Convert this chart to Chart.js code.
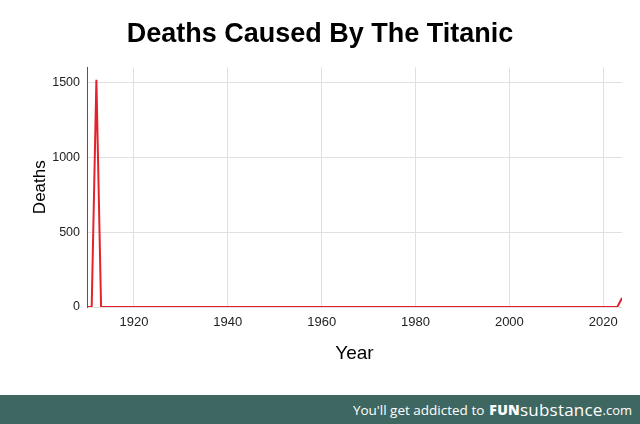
<!DOCTYPE html>
<html>
<head>
<meta charset="utf-8">
<script src="https://cdn.jsdelivr.net/npm/chart.js@4"></script>
<style>
    html, body { margin: 0; padding: 0; background: #fff; }
    #wrap { width: 640px; height: 395px; position: relative; }
    #footer {
        width: 640px; height: 29px; background: #3f6761; color: #fff;
        font-family: 'Open Sans', sans-serif; font-size: 13.5px;
        display: flex; align-items: center; justify-content: flex-end;
        box-sizing: border-box; padding-right: 8px;
    }
    #footer b { font-weight: 800; letter-spacing: 0.3px; margin-left: 5px; font-size: 14px; }
    #footer .sub { font-size: 17px; letter-spacing: 0.2px; }
    #footer small { font-size: 13px; }
</style>
</head>
<body>
<div id="wrap"><canvas id="chart" width="640" height="395"></canvas></div>
<div id="footer">You'll get addicted to <b>FUN</b><span class="sub">substance</span><small>.com</small></div>
<script>
'use strict';

// ===== データ =====
const years  = [1910, 1911, 1912, 1913, 2023, 2024];
const deaths = [0, 0, 1517, 0, 0, 60];

const xTicks = [1920, 1940, 1960, 1980, 2000, 2020];
const yTicks = [0, 500, 1000, 1500];

const LINE_COLOR = '#e3222b';
const GRID_COLOR = '#e0e0e0';
const FONT = "'Liberation Sans', Arial, sans-serif";

const points = years.map((y, i) => ({ x: y, y: deaths[i] }));

new Chart(document.getElementById('chart').getContext('2d'), {
    type: 'line',
    data: {
        datasets: [{
            data: points,
            borderColor: LINE_COLOR,
            borderWidth: 2,
            pointRadius: 0,
            tension: 0,
            fill: false,
        }],
    },
    options: {
        responsive: false,
        animation: false,
        devicePixelRatio: 1,
        layout: { padding: { left: 18, right: 18, top: 0, bottom: 0 } },
        plugins: {
            legend: { display: false },
            tooltip: { enabled: false },
            title: {
                display: true,
                text: 'Deaths Caused By The Titanic',
                color: '#000',
                font: { family: FONT, size: 27, weight: 'bold' },
                padding: { top: 18, bottom: 17 },
            },
        },
        scales: {
            x: {
                type: 'linear',
                min: 1910,
                max: 2024,
                afterBuildTicks: s => { s.ticks = xTicks.map(v => ({ value: v })); },
                afterFit: s => { s.height = 88; },
                ticks: {
                    color: '#222',
                    font: { family: FONT, size: 13 },
                    padding: 8,
                    maxRotation: 0,
                    callback: v => String(v),
                },
                grid: { color: GRID_COLOR, drawTicks: false },
                border: { display: false },
                title: {
                    display: true,
                    text: 'Year',
                    color: '#000',
                    font: { family: FONT, size: 19 },
                    padding: { top: 0, bottom: 30 },
                },
            },
            y: {
                min: 0,
                max: 1600,
                afterBuildTicks: s => { s.ticks = yTicks.map(v => ({ value: v })); },
                afterFit: s => { s.width = 69; },
                ticks: {
                    color: '#222',
                    font: { family: FONT, size: 12.5 },
                    padding: 7,
                    callback: v => String(v),
                },
                grid: { color: GRID_COLOR, drawTicks: false },
                border: { display: true, color: '#555', width: 1 },
                title: {
                    display: true,
                    text: 'Deaths',
                    color: '#000',
                    font: { family: FONT, size: 17 },
                    padding: { top: 12, bottom: 0 },
                },
            },
        },
    },
});
</script>
</body>
</html>
